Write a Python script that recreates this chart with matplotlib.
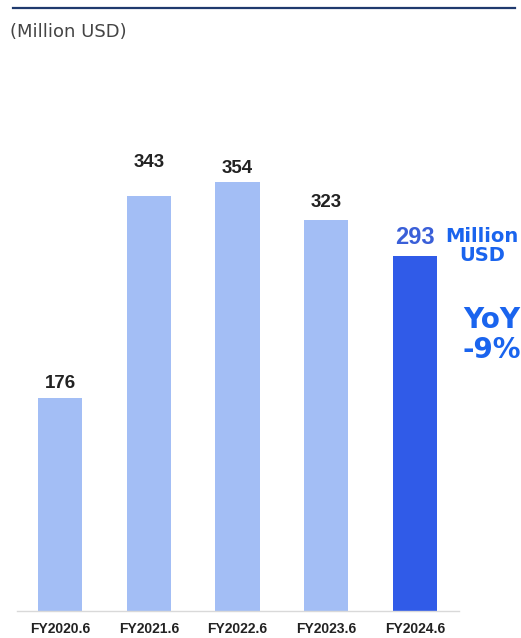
import matplotlib.pyplot as plt
from matplotlib.lines import Line2D

years = ["FY2020.6", "FY2021.6", "FY2022.6", "FY2023.6", "FY2024.6"]
values = [176, 343, 354, 323, 293]

light = "#a3bef5"
dark = "#305be8"
blue_txt = "#1a64ee"
# vertical gap (points) between bar top and its label, as in the source slide
label_gap = [4, 18, 4, 6, 5]

fig = plt.figure(figsize=(5.21, 6.38), dpi=100)
ax = fig.add_axes([17 / 521, 27 / 638, 442 / 521, 545 / 638])

colors = [light] * (len(values) - 1) + [dark]
x = range(len(values))
ax.bar(x, values, width=0.5, color=colors, zorder=2)

for i, v in enumerate(values):
    last = i == len(values) - 1
    ax.annotate(str(v), (i, v), xytext=(0, label_gap[i]),
                textcoords="offset points", ha="center", va="bottom",
                fontsize=17 if last else 13.5, fontweight="bold",
                color="#3a5fd8" if last else "#222222",
                family="Liberation Sans")

ax.set_xlim(-0.485, 4.496)
ax.set_ylim(0, 450)
ax.set_xticks(list(x))
ax.set_xticklabels(years, fontsize=10, fontweight="bold", color="#222222",
                   family="Liberation Sans")
ax.tick_params(axis="x", length=0, pad=8)
ax.set_yticks([])
for s in ["top", "right", "left"]:
    ax.spines[s].set_visible(False)
ax.spines["bottom"].set_color("#d9d9d9")
ax.spines["bottom"].set_linewidth(1)

# annotations on the right
fig.text(482 / 521, 1 - 246 / 638, "Million\nUSD", ha="center", va="center",
         fontsize=14, fontweight="bold", color=blue_txt, linespacing=1.0,
         family="DejaVu Sans")
fig.text(492 / 521, 1 - 335 / 638, "YoY\n-9%", ha="center", va="center",
         fontsize=20, fontweight="bold", color=blue_txt, linespacing=1.05,
         family="DejaVu Sans")

# header rule and unit label
fig.add_artist(Line2D([13 / 521, 515 / 521], [1 - 8 / 638, 1 - 8 / 638],
                      color="#1f3a6e", linewidth=1.6))
fig.text(10 / 521, 1 - 32 / 638, "(Million USD)", ha="left", va="center",
         fontsize=13, color="#444444", family="DejaVu Sans")

fig.savefig("out.png", dpi=100)
